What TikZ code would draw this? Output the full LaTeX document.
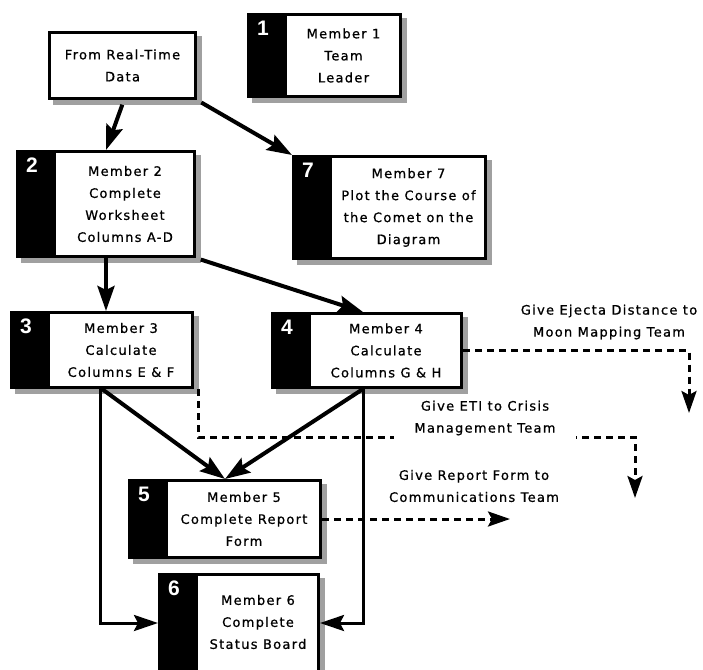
\documentclass[tikz,border=0pt]{standalone}
\usepackage{fontspec}
\setmainfont{DejaVu Sans}[LetterSpace=10,FakeBold=0.8]
\newfontfamily\numfont{Liberation Sans}
\usetikzlibrary{arrows.meta,calc,backgrounds}
\definecolor{shadowgray}{HTML}{A0A0A0}
\begin{document}
\begin{tikzpicture}[x=1pt,y=-1pt,
  frame/.style={draw=black,line width=3pt,fill=white,inner sep=0pt,outer sep=1.5pt,anchor=north west},
  teambox/.style={frame,path picture={\fill[black] (path picture bounding box.north west) rectangle ([xshift=38pt]path picture bounding box.south west);}},
  txt/.style={align=center,font=\fontsize{13}{22}\selectfont,inner sep=0pt},
  num/.style={anchor=north west,inner sep=0pt,text=white,font=\numfont\bfseries\fontsize{21}{21}\selectfont},
  note/.style={txt},
  flow/.style={line width=4pt,-{Stealth[length=25pt,width=17pt,inset=4pt]}},
  side/.style={line width=3pt,-{Stealth[length=24pt,width=16pt,inset=4pt]}},
  handoff/.style={line width=3pt,dash pattern=on 7pt off 5pt,-{Stealth[length=22pt,width=15pt,inset=4pt]}},
]
\useasboundingbox (0,0) rectangle (703,669);

% boxes
\node[frame,minimum width=146pt,minimum height=66pt] (data) at (48,31) {};
\node[txt] (datat) at (data.center) {From Real-Time\\Data};

\node[teambox,minimum width=152pt,minimum height=82pt] (b1) at (247,13) {};
\node[txt] (b1t) at ([xshift=19pt]b1.center) {Member 1\\Team\\Leader};
\node[num] (n1) at ([shift={(10,8)}]b1.north west) {1};

\node[teambox,minimum width=177pt,minimum height=105pt] (b2) at (16,150) {};
\node[txt] (b2t) at ([xshift=19pt]b2.center) {Member 2\\Complete\\Worksheet\\Columns A-D};
\node[num] (n2) at ([shift={(10,8)}]b2.north west) {2};

\node[teambox,minimum width=192pt,minimum height=102pt] (b7) at (292,155) {};
\node[txt] (b7t) at ([xshift=19pt]b7.center) {Member 7\\Plot the Course of\\the Comet on the\\Diagram};
\node[num] (n7) at ([shift={(10,8)}]b7.north west) {7};

\node[teambox,minimum width=181pt,minimum height=75pt] (b3) at (10,311) {};
\node[txt] (b3t) at ([xshift=19pt]b3.center) {Member 3\\Calculate\\Columns E \& F};
\node[num] (n3) at ([shift={(10,8)}]b3.north west) {3};

\node[teambox,minimum width=189pt,minimum height=74pt] (b4) at (271,312) {};
\node[txt] (b4t) at ([xshift=19pt]b4.center) {Member 4\\Calculate\\Columns G \& H};
\node[num] (n4) at ([shift={(10,8)}]b4.north west) {4};

\node[teambox,minimum width=191pt,minimum height=77pt] (b5) at (128,479) {};
\node[txt] (b5t) at ([xshift=19pt]b5.center) {Member 5\\Complete Report\\Form};
\node[num] (n5) at ([shift={(10,8)}]b5.north west) {5};

\node[teambox,minimum width=159pt,minimum height=97pt] (b6) at (158,573) {};
\node[txt] (b6t) at ([xshift=19pt,yshift=1pt]b6.center) {Member 6\\Complete\\Status Board};
\node[num] (n6) at ([shift={(10,8)}]b6.north west) {6};

% shadows
\begin{scope}[on background layer]
  \fill[white] (0,0) rectangle (703,669);
  \foreach \b in {data,b1,b2,b7,b3,b4,b5,b6}
    \fill[shadowgray] ([shift={(5,5)}]\b.north west) rectangle ([shift={(5,5)}]\b.south east);
\end{scope}

% solid connectors
\draw[flow,shorten <=5pt] ([xshift=1.5pt]data.south) -- (b2.north);
\draw[flow,shorten <=5pt] (data.south east) -- (b7.north west);
\draw[flow] (b2.south) -- (b2.south |- b3.north);
\draw[flow,shorten <=5pt] (b2.south east) -- ([xshift=-4pt]b4.north);
\draw[flow] (b3.south) -- (b5.north);
\draw[flow] ([xshift=-4pt]b4.south) -- (b5.north);
\draw[side] ([xshift=-2pt]b3.south) |- (b6.west);
\draw[side] ([xshift=-4pt]b4.south) |- (b6.east);

% hand-offs
\coordinate (moon) at (689,413);
\coordinate (eti) at (635,498);
\coordinate (comm) at (510,519);
\draw[handoff] (b4.east) -| (moon);
\draw[handoff] ([xshift=4pt]b3.south east) |- ($(eti)+(0,-61)$) -- (eti);
\draw[handoff] (b5.east) -- (comm);

\node[note] (moonlbl) at (609,322) {Give Ejecta Distance to\\Moon Mapping Team};
\node[note,fill=white,inner xsep=20pt,inner ysep=6pt] (etilbl) at (485,418) {Give ETI to Crisis\\Management Team};
\node[note] (commlbl) at (474,486) {Give Report Form to\\Communications Team};
\end{tikzpicture}
\end{document}
